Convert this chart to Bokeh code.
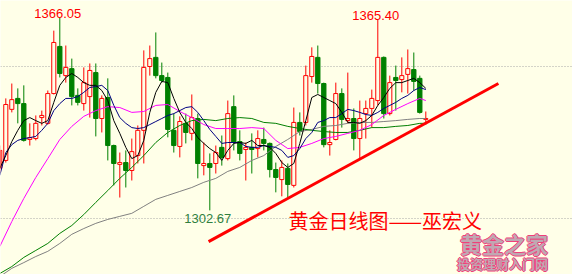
from bokeh.plotting import figure
from bokeh.models import Range1d, Span, ColumnDataSource
from bokeh.embed import file_html
from bokeh.resources import INLINE
from bokeh.core.properties import value

# ---------------- data ----------------
idx = list(range(-1, 71))
opens = [1316.5, 1319.1, 1335.9, 1339.5, 1337.8, 1326.0, 1326.3, 1333.2, 1331.3, 1341.1,
         1356.6, 1347.0, 1349.3, 1340.5, 1337.8, 1340.1, 1348.0, 1332.9, 1339.8, 1324.0,
         1317.8, 1318.4, 1315.8, 1320.7, 1329.0, 1350.0, 1353.0, 1347.0, 1346.4, 1329.0,
         1323.7, 1331.3, 1328.0, 1332.9, 1317.4, 1318.1, 1318.1, 1323.4, 1319.7, 1336.8,
         1325.3, 1322.7, 1323.4, 1323.0, 1326.0, 1324.7, 1316.1, 1312.8, 1316.5, 1310.9,
         1331.6, 1331.6, 1346.7, 1353.0, 1344.4, 1324.3, 1326.0, 1341.1, 1332.2, 1332.9,
         1326.3, 1334.5, 1336.2, 1338.8, 1353.0, 1334.5, 1346.4, 1345.7, 1347.4, 1349.0,
         1346.1, 1332.6]
highs = [1324.0, 1339.5, 1344.4, 1342.8, 1343.8, 1331.3, 1333.9, 1335.5, 1342.1, 1361.8,
         1366.05, 1356.9, 1352.6, 1342.8, 1349.7, 1351.0, 1351.0, 1340.5, 1346.1, 1324.3,
         1321.7, 1322.4, 1326.3, 1330.6, 1355.3, 1356.9, 1361.2, 1351.3, 1348.0, 1334.5,
         1333.6, 1334.5, 1340.8, 1334.5, 1325.0, 1321.4, 1324.0, 1327.3, 1338.8, 1340.5,
         1329.0, 1325.0, 1328.0, 1329.0, 1329.9, 1325.0, 1318.4, 1319.1, 1318.1, 1336.5,
         1334.9, 1350.3, 1356.3, 1356.9, 1344.7, 1329.0, 1344.7, 1342.8, 1348.0, 1336.2,
         1338.8, 1338.8, 1342.4, 1365.40, 1353.3, 1347.0, 1350.3, 1353.0, 1355.6, 1354.6,
         1347.0, 1335.2]
lows = [1315.1, 1318.4, 1334.9, 1331.3, 1325.3, 1324.0, 1325.7, 1330.6, 1330.9, 1340.8,
        1346.4, 1344.7, 1337.2, 1337.2, 1335.5, 1333.2, 1327.0, 1328.3, 1319.1, 1310.9,
        1306.9, 1310.2, 1312.5, 1318.1, 1318.1, 1347.0, 1346.1, 1344.7, 1326.7, 1321.7,
        1320.1, 1324.7, 1325.7, 1313.2, 1314.2, 1302.67, 1314.8, 1317.4, 1319.1, 1322.4,
        1319.1, 1312.5, 1314.8, 1320.1, 1322.4, 1313.5, 1308.6, 1307.3, 1306.9, 1310.2,
        1327.3, 1330.6, 1344.7, 1341.1, 1323.4, 1320.7, 1325.7, 1329.9, 1331.3, 1322.4,
        1319.7, 1326.3, 1329.9, 1337.2, 1332.9, 1333.9, 1335.5, 1341.5, 1341.1, 1342.1,
        1334.5, 1330.9]
closes = [1322.4, 1337.5, 1339.1, 1337.8, 1325.7, 1326.6, 1331.3, 1333.9, 1341.1, 1357.9,
          1347.7, 1349.7, 1340.1, 1338.2, 1344.7, 1348.7, 1332.9, 1339.5, 1324.0, 1318.1,
          1318.4, 1315.8, 1322.0, 1329.0, 1349.7, 1352.6, 1347.0, 1345.4, 1329.3, 1324.0,
          1331.9, 1328.3, 1333.2, 1318.1, 1318.1, 1316.8, 1321.7, 1320.1, 1334.5, 1325.0,
          1321.4, 1323.4, 1322.7, 1326.3, 1324.7, 1316.1, 1313.5, 1316.8, 1311.2, 1331.6,
          1328.6, 1347.0, 1353.3, 1344.4, 1324.3, 1325.0, 1341.1, 1332.6, 1332.9, 1326.3,
          1332.9, 1336.2, 1339.5, 1353.0, 1334.5, 1344.7, 1345.4, 1347.0, 1349.3, 1345.1,
          1334.9, 1332.9]

# moving averages as drawn on the chart
ma5 = [1316.5, 1320.7, 1325.3, 1329.0, 1332.2, 1333.2, 1332.2, 1331.3, 1332.2, 1338.2,
       1343.8, 1346.4, 1347.7, 1346.4, 1344.7, 1343.8, 1343.8, 1342.1, 1338.8, 1332.2,
       1328.0, 1323.4, 1319.7, 1320.7, 1325.7, 1334.9, 1341.5, 1345.1, 1344.7, 1339.5,
       1334.9, 1331.6, 1329.6, 1326.6, 1324.7, 1323.0, 1321.7, 1319.1, 1322.4, 1324.7,
       1325.0, 1324.7, 1325.7, 1324.0, 1324.0, 1323.4, 1321.4, 1318.4, 1316.8, 1318.1,
       1324.7, 1332.2, 1339.8, 1340.8, 1339.8, 1338.8, 1337.8, 1334.9, 1331.6, 1331.6,
       1331.3, 1332.2, 1333.9, 1337.2, 1339.8, 1342.8, 1344.7, 1344.7, 1345.4, 1346.1,
       1344.7, 1342.8]
ma10 = [1314.2, 1321.7, 1324.3, 1325.7, 1326.3, 1326.6, 1327.0, 1329.0, 1331.3, 1335.5,
        1337.8, 1339.5, 1339.5, 1340.1, 1341.5, 1343.1, 1343.4, 1343.8, 1342.1, 1337.2,
        1333.2, 1331.3, 1329.9, 1329.6, 1329.9, 1330.9, 1331.9, 1332.9, 1333.9, 1334.5,
        1335.5, 1336.5, 1336.8, 1334.9, 1332.2, 1329.3, 1327.0, 1324.7, 1325.0, 1325.0,
        1325.0, 1323.7, 1323.4, 1323.4, 1324.0, 1323.7, 1323.4, 1322.4, 1320.1, 1320.7,
        1323.0, 1326.3, 1328.3, 1331.6, 1332.2, 1333.2, 1333.2, 1334.5, 1335.9, 1335.5,
        1334.9, 1334.2, 1333.9, 1334.9, 1336.2, 1337.2, 1338.2, 1339.5, 1340.5, 1342.1,
        1343.1, 1342.4]
ma_idx = [-1, 1, 3, 5, 7, 9, 11, 13, 15, 17, 19, 21, 23, 25, 27, 29, 31, 33, 35, 37,
          39, 41, 43, 45, 47, 49, 51, 53, 55, 57, 59, 61, 63, 65, 67, 69, 70]
ma20 = [1290.8, 1299.0, 1306.6, 1313.5, 1319.7, 1326.0, 1330.3, 1333.6, 1335.5, 1336.8,
        1336.5, 1334.9, 1335.2, 1337.2, 1337.5, 1335.2, 1333.2, 1330.9, 1329.6, 1329.6,
        1329.6, 1329.9, 1329.6, 1325.7, 1323.0, 1323.4, 1324.7, 1326.3, 1327.0, 1328.0,
        1329.0, 1330.9, 1333.9, 1335.9, 1337.8, 1339.5, 1338.8]
ma60 = [1281.9, 1284.2, 1287.2, 1289.5, 1291.8, 1295.1, 1297.7, 1301.3, 1305.3, 1309.2,
        1313.2, 1316.8, 1320.7, 1325.0, 1328.3, 1330.6, 1332.2, 1332.6, 1332.2, 1332.9,
        1333.2, 1332.9, 1331.6, 1331.3, 1330.3, 1329.6, 1329.0, 1328.6, 1328.3, 1328.3,
        1329.0, 1329.9, 1329.9, 1330.3, 1330.6, 1331.3, 1331.3]
ma120 = [1280.9, 1283.6, 1285.5, 1287.5, 1289.2, 1291.8, 1294.8, 1296.7, 1298.4, 1299.7,
         1300.7, 1301.7, 1304.0, 1306.3, 1307.6, 1308.9, 1310.2, 1311.9, 1313.2, 1315.5,
         1316.8, 1319.1, 1320.7, 1323.7, 1326.0, 1328.6, 1329.3, 1330.3, 1330.6, 1331.3,
         1331.6, 1331.6, 1331.9, 1332.2, 1332.6, 1332.9, 1332.9]

grid_levels = [1300, 1350]
trend_x = [33.8, 82.1]
trend_y = [1292.4, 1344.4]

title_text = "黄金日线图——巫宏义"
wm_big = "黄金之家"
wm_small = "投资理财入门网"

# ---------------- figure ----------------
W, H = 572, 274
X0, X1 = -0.883, 94.45
Y0, Y1 = 1281.58, 1371.71
BG = "#FFFFE8"
RED = "#FF0000"
GREEN = "#008000"


def sx(px):
    return X0 + px * (X1 - X0) / W


def sy(py):
    return Y1 - py * (Y1 - Y0) / H


p = figure(width=W, height=H, x_range=Range1d(X0, X1), y_range=Range1d(Y0, Y1),
           output_backend="svg", toolbar_location=None,
           x_axis_location=None, y_axis_location=None,
           min_border=0, background_fill_color=BG, border_fill_color=BG,
           outline_line_color=None)
p.xgrid.visible = False
p.ygrid.visible = False

for lv in grid_levels:
    p.add_layout(Span(location=lv, dimension="width", line_color="#A8A8A8",
                      line_dash="1 2", line_width=1, level="underlay"))

up = [c >= o for o, c in zip(opens, closes)]
src_up = ColumnDataSource(dict(
    x=[i for i, u in zip(idx, up) if u],
    top=[max(o, c) for o, c, u in zip(opens, closes, up) if u],
    bottom=[min(o, c) for o, c, u in zip(opens, closes, up) if u],
    high=[h for h, u in zip(highs, up) if u],
    low=[l for l, u in zip(lows, up) if u]))
src_dn = ColumnDataSource(dict(
    x=[i for i, u in zip(idx, up) if not u],
    top=[max(o, c) for o, c, u in zip(opens, closes, up) if not u],
    bottom=[min(o, c) for o, c, u in zip(opens, closes, up) if not u],
    high=[h for h, u in zip(highs, up) if not u],
    low=[l for l, u in zip(lows, up) if not u]))

p.segment(x0="x", y0="high", x1="x", y1="low", source=src_up, line_color=RED, line_width=1)
p.vbar(x="x", top="top", bottom="bottom", width=0.68, source=src_up,
       fill_color=BG, line_color=RED, line_width=1)
p.segment(x0="x", y0="high", x1="x", y1="low", source=src_dn, line_color=GREEN, line_width=1)
p.vbar(x="x", top="top", bottom="bottom", width=0.72, source=src_dn,
       fill_color=GREEN, line_color=GREEN, line_width=1)

p.line(ma_idx, ma120, line_color="#808080", line_width=1)
p.line(ma_idx, ma60, line_color="#007F00", line_width=1)
p.line(ma_idx, ma20, line_color="#FF00FF", line_width=1)
p.line(idx, ma10, line_color="#000080", line_width=1)
p.line(idx, ma5, line_color="#000000", line_width=1)

p.line(trend_x, trend_y, line_color=RED, line_width=3)

# high / low annotations anchored to the candles
hi1 = max(highs[:40]); i_hi1 = idx[highs.index(hi1)]
hi2 = max(highs[40:]); i_hi2 = idx[highs.index(hi2)]
lo1 = min(lows); i_lo1 = idx[lows.index(lo1)]
num_font = value("Liberation Sans")
p.text(x=[i_hi1, i_hi2], y=[hi1, hi2], text=[f"{hi1:.2f}", f"{hi2:.2f}"],
       text_color=RED, text_font=num_font, text_font_size="13px",
       text_align="center", text_baseline="alphabetic", x_offset=-2, y_offset=-4)
p.text(x=[i_lo1], y=[lo1], text=[f"{lo1:.2f}"], text_color="#2F7F3F",
       text_font=num_font, text_font_size="13px", text_align="center",
       text_baseline="top", x_offset=-2, y_offset=4)

cjk = value("Noto Sans CJK SC")
p.text(x=[sx(288)], y=[sy(220)], text=[title_text], text_color=RED, text_font=cjk,
       text_font_size="20px", text_align="left", text_baseline="middle")

# watermark with outline effect
for dx, dy in [(-1, 0), (1, 0), (0, -1), (0, 1)]:
    p.text(x=[sx(503.5)], y=[sy(242)], text=[wm_big], text_color="#F0407A", text_font=cjk,
           text_font_size="22px", text_font_style="bold", text_align="center",
           text_baseline="middle", x_offset=dx, y_offset=dy)
    p.text(x=[sx(502)], y=[sy(262.5)], text=[wm_small], text_color="#F0407A", text_font=cjk,
           text_font_size="13px", text_font_style="bold", text_align="center",
           text_baseline="middle", x_offset=dx, y_offset=dy)
p.text(x=[sx(503.5)], y=[sy(242)], text=[wm_big], text_color="#C0A8B2", text_font=cjk,
       text_font_size="22px", text_font_style="bold", text_align="center",
       text_baseline="middle")
p.text(x=[sx(502)], y=[sy(262.5)], text=[wm_small], text_color="#C0A8B2", text_font=cjk,
       text_font_size="13px", text_font_style="bold", text_align="center",
       text_baseline="middle")

open("out.html", "w").write(file_html(p, INLINE))
